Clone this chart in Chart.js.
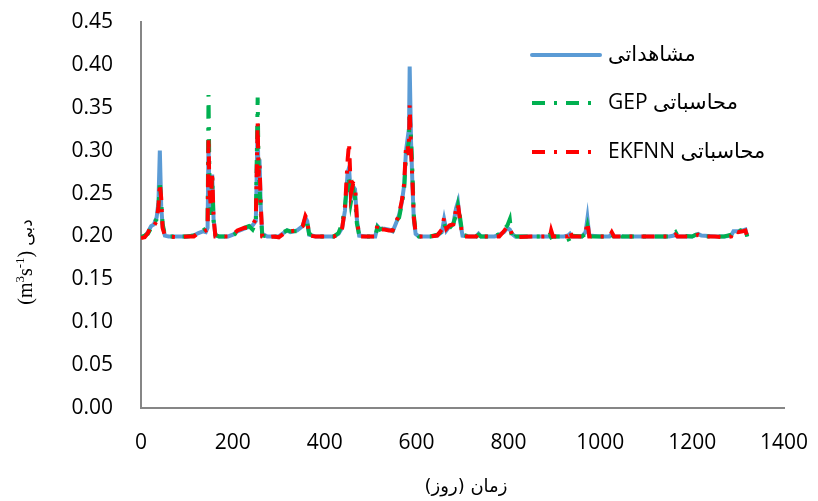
<!DOCTYPE html>
<html>
<head>
<meta charset="utf-8">
<script src="https://cdn.jsdelivr.net/npm/chart.js@4/dist/chart.umd.min.js"></script>
<style>
  html, body { margin: 0; padding: 0; background: #fff; }
  canvas { display: block; }
</style>
</head>
<body>
<canvas id="chart" width="818" height="501"></canvas>
<script>
// days, values in m3/s
const days = [0, 8, 15, 22, 28, 34, 38, 41, 44, 47, 52, 60, 80, 100, 115, 125, 135, 141, 145, 147,
  149, 152, 155, 158, 162, 170, 190, 200, 210, 225, 235, 243, 250, 254, 256, 258, 261, 264, 275, 290,
  300, 310, 318, 325, 340, 352, 358, 362, 366, 380, 400, 420, 430, 438, 444, 450, 453, 457, 462, 466,
  470, 475, 490, 510, 515, 520, 530, 540, 548, 555, 562, 568, 573, 577, 580, 583, 585, 588, 591, 594,
  598, 605, 630, 645, 655, 660, 665, 672, 680, 686, 690, 694, 700, 715, 730, 735, 740, 770, 780, 790,
  798, 803, 808, 815, 850, 880, 890, 893, 897, 920, 930, 934, 938, 960, 968, 972, 976, 1000, 1020, 1025,
  1030, 1043, 1048, 1100, 1150, 1160, 1164, 1168, 1200, 1208, 1213, 1220, 1250, 1270, 1285, 1290, 1300, 1310, 1316, 1320];

const observed = [0.199, 0.200, 0.205, 0.212, 0.214, 0.222, 0.240, 0.300, 0.235, 0.212, 0.201, 0.200, 0.200, 0.200, 0.201, 0.204, 0.206, 0.205, 0.210, 0.310,
  0.250, 0.230, 0.272, 0.220, 0.201, 0.200, 0.200, 0.202, 0.206, 0.209, 0.211, 0.213, 0.218, 0.330, 0.260, 0.290, 0.230, 0.203, 0.200, 0.200,
  0.200, 0.204, 0.207, 0.205, 0.207, 0.212, 0.222, 0.218, 0.202, 0.200, 0.200, 0.200, 0.203, 0.210, 0.230, 0.275, 0.280, 0.245, 0.258, 0.255,
  0.220, 0.201, 0.200, 0.200, 0.212, 0.209, 0.209, 0.208, 0.206, 0.215, 0.225, 0.240, 0.260, 0.300, 0.312, 0.300, 0.398, 0.310, 0.260, 0.220,
  0.203, 0.200, 0.200, 0.201, 0.205, 0.220, 0.207, 0.212, 0.214, 0.233, 0.240, 0.220, 0.201, 0.200, 0.200, 0.203, 0.200, 0.200, 0.202, 0.205,
  0.210, 0.208, 0.203, 0.200, 0.200, 0.200, 0.200, 0.201, 0.200, 0.200, 0.201, 0.203, 0.200, 0.200, 0.205, 0.221, 0.201, 0.200, 0.200, 0.203,
  0.200, 0.200, 0.200, 0.200, 0.200, 0.201, 0.203, 0.200, 0.200, 0.202, 0.203, 0.201, 0.200, 0.200, 0.201, 0.206, 0.206, 0.207, 0.208, 0.200];

const gep = [0.199, 0.201, 0.203, 0.210, 0.216, 0.220, 0.232, 0.265, 0.240, 0.215, 0.202, 0.200, 0.200, 0.200, 0.201, 0.203, 0.207, 0.209, 0.211, 0.365,
  0.270, 0.225, 0.270, 0.218, 0.202, 0.200, 0.200, 0.201, 0.205, 0.210, 0.212, 0.208, 0.216, 0.362, 0.280, 0.260, 0.225, 0.201, 0.200, 0.200,
  0.199, 0.205, 0.207, 0.206, 0.206, 0.210, 0.220, 0.216, 0.203, 0.200, 0.200, 0.200, 0.204, 0.215, 0.235, 0.270, 0.265, 0.240, 0.255, 0.245,
  0.215, 0.202, 0.200, 0.200, 0.211, 0.208, 0.210, 0.208, 0.207, 0.218, 0.222, 0.238, 0.255, 0.295, 0.300, 0.310, 0.340, 0.315, 0.275, 0.225,
  0.205, 0.200, 0.200, 0.202, 0.206, 0.215, 0.206, 0.210, 0.215, 0.225, 0.236, 0.225, 0.202, 0.200, 0.200, 0.202, 0.200, 0.200, 0.203, 0.208,
  0.213, 0.220, 0.196, 0.200, 0.200, 0.200, 0.202, 0.199, 0.200, 0.200, 0.198, 0.193, 0.201, 0.200, 0.203, 0.212, 0.200, 0.200, 0.200, 0.202,
  0.199, 0.203, 0.200, 0.200, 0.200, 0.203, 0.205, 0.201, 0.200, 0.202, 0.202, 0.200, 0.200, 0.200, 0.202, 0.205, 0.206, 0.208, 0.209, 0.200];

const ekfnn = [0.198, 0.199, 0.204, 0.213, 0.212, 0.218, 0.235, 0.262, 0.245, 0.210, 0.201, 0.200, 0.199, 0.200, 0.200, 0.204, 0.205, 0.207, 0.208, 0.315,
  0.255, 0.235, 0.275, 0.222, 0.200, 0.200, 0.200, 0.202, 0.207, 0.210, 0.210, 0.214, 0.220, 0.333, 0.270, 0.285, 0.235, 0.200, 0.199, 0.200,
  0.199, 0.203, 0.206, 0.206, 0.207, 0.212, 0.224, 0.220, 0.201, 0.200, 0.200, 0.200, 0.202, 0.210, 0.232, 0.290, 0.309, 0.250, 0.262, 0.260,
  0.222, 0.200, 0.200, 0.200, 0.214, 0.208, 0.208, 0.207, 0.207, 0.216, 0.226, 0.242, 0.262, 0.305, 0.308, 0.295, 0.353, 0.300, 0.265, 0.222,
  0.204, 0.200, 0.200, 0.201, 0.208, 0.222, 0.209, 0.213, 0.214, 0.232, 0.238, 0.222, 0.200, 0.200, 0.200, 0.203, 0.200, 0.200, 0.200, 0.206,
  0.212, 0.210, 0.202, 0.199, 0.200, 0.200, 0.199, 0.207, 0.200, 0.200, 0.200, 0.207, 0.200, 0.200, 0.204, 0.217, 0.200, 0.200, 0.200, 0.205,
  0.200, 0.200, 0.200, 0.200, 0.200, 0.200, 0.202, 0.200, 0.200, 0.201, 0.202, 0.200, 0.200, 0.199, 0.200, 0.207, 0.205, 0.206, 0.207, 0.200];

const seriesNames = ['مشاهداتی', 'محاسباتی GEP', 'محاسباتی EKFNN'];
const xTitle = 'زمان (روز)';

const toPoints = vals => days.map((d, i) => ({ x: d, y: vals[i] }));

const tickFont = { family: "'Open Sans', 'DejaVu Sans', sans-serif", size: 21 };
const dashDot = [13, 9, 3, 9];

// legend and axis titles drawn by hand so they sit where the original has them
const extras = {
  id: 'extras',
  afterDraw(chart) {
    const ctx = chart.ctx;
    ctx.save();

    // legend, top right inside the plot
    const rows = [55, 103, 152];
    chart.data.datasets.forEach((ds, i) => {
      const y = rows[i];
      ctx.beginPath();
      ctx.strokeStyle = ds.borderColor;
      ctx.lineWidth = 4;
      ctx.lineCap = ds.borderDash.length ? 'butt' : 'round';
      ctx.setLineDash(ds.borderDash);
      ctx.moveTo(532, y);
      ctx.lineTo(600, y);
      ctx.stroke();
      ctx.setLineDash([]);
      ctx.fillStyle = '#000';
      ctx.font = "21px 'Open Sans', 'DejaVu Sans', sans-serif";
      ctx.direction = 'rtl';
      ctx.textAlign = 'left';
      ctx.textBaseline = 'middle';
      ctx.fillText(ds.label, 608, y);
    });

    // x title
    ctx.direction = 'rtl';
    ctx.textAlign = 'center';
    ctx.textBaseline = 'middle';
    ctx.font = "18px 'DejaVu Sans', sans-serif";
    ctx.fillText(xTitle, 466, 487);

    // y title, rotated, with superscripts
    ctx.direction = 'ltr';
    ctx.translate(25, 262);
    ctx.rotate(-Math.PI / 2);
    const serif = "'Liberation Serif', 'DejaVu Serif', serif";
    const parts = [
      ['(m', '20px ' + serif, 0],
      ['3', '13px ' + serif, -8],
      ['s', '20px ' + serif, 0],
      ['-1', '13px ' + serif, -8],
      [') ', '20px ' + serif, 0],
      ['دبی', "17px 'DejaVu Sans', sans-serif", 0]
    ];
    let total = 0;
    parts.forEach(p => { ctx.font = p[1]; total += ctx.measureText(p[0]).width; });
    let x = -total / 2;
    ctx.textAlign = 'left';
    ctx.textBaseline = 'alphabetic';
    parts.forEach(p => {
      ctx.font = p[1];
      ctx.fillText(p[0], x, 7 + p[2]);
      x += ctx.measureText(p[0]).width;
    });

    ctx.restore();
  }
};

new Chart(document.getElementById('chart'), {
  type: 'line',
  data: {
    datasets: [
      {
        label: seriesNames[0],
        data: toPoints(observed),
        borderColor: '#5B9BD5',
        borderWidth: 4,
        borderDash: [],
        order: 3
      },
      {
        label: seriesNames[1],
        data: toPoints(gep),
        borderColor: '#00B050',
        borderWidth: 4,
        borderDash: dashDot,
        order: 2
      },
      {
        label: seriesNames[2],
        data: toPoints(ekfnn),
        borderColor: '#FF0000',
        borderWidth: 4,
        borderDash: dashDot,
        order: 1
      }
    ]
  },
  options: {
    responsive: false,
    animation: false,
    devicePixelRatio: 1,
    elements: { point: { radius: 0 }, line: { tension: 0, fill: false } },
    layout: { padding: { left: 0, right: 34, top: 22, bottom: 0 } },
    plugins: { legend: { display: false }, tooltip: { enabled: false } },
    scales: {
      x: {
        type: 'linear',
        min: 0,
        max: 1400,
        ticks: { stepSize: 200, font: tickFont, color: '#000', padding: 22, maxRotation: 0,
          callback: v => String(v) },
        grid: { display: false, drawTicks: false },
        border: { display: true, color: '#868686', width: 2 },
        afterFit: s => { s.height = 93; s.paddingLeft = 0; s.paddingRight = 0; }
      },
      y: {
        min: 0,
        max: 0.45,
        ticks: { stepSize: 0.05, font: tickFont, color: '#000', padding: 28,
          callback: v => v.toFixed(2) },
        grid: { display: false, drawTicks: false },
        border: { display: true, color: '#868686', width: 2 },
        afterFit: s => { s.width = 141; s.paddingTop = 0; s.paddingBottom = 0; }
      }
    }
  },
  plugins: [extras]
});
</script>
</body>
</html>
